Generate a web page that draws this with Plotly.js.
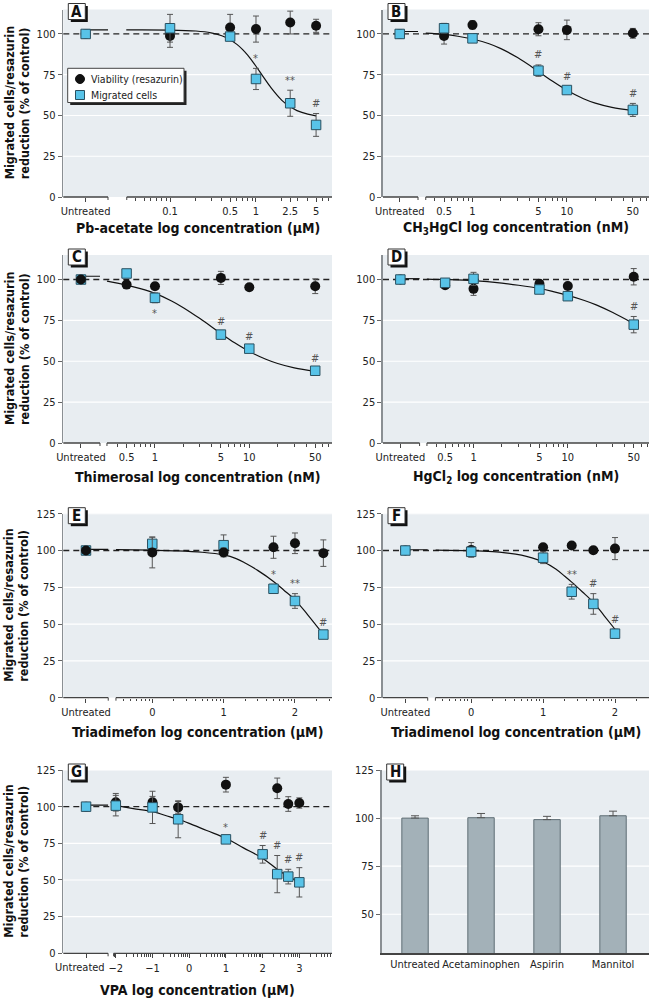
<!DOCTYPE html>
<html><head><meta charset="utf-8">
<script src="https://cdn.plot.ly/plotly-3.0.1.min.js"></script>
<style>body{margin:0;background:#fff}#chart{width:649px;height:999px}</style>
</head><body><div id="chart"></div>
<script>
// ---------------- DATA ----------------
// A: Pb-acetate (µM)
const A_conc = ['Untreated', 0.1, 0.5, 1, 2.5, 5];
const A_viability = [100, 98.8, 104, 103, 107, 105];
const A_viabilityErr = [0, 7, 8, 8, 7, 4];
const A_migrated = [100, 103.5, 98.4, 72.4, 57.5, 44.2];
const A_migratedErr = [0, 8.5, 2, 6.5, 8, 7];
const A_signif = ['', '', '', '*', '**', '#'];
const A_fitStub = 102.5;
const A_fitConc = [0.031, 0.1, 0.2, 0.3, 0.4, 0.5, 0.6, 0.7, 0.8, 0.9, 1, 1.2, 1.5, 2, 2.5, 3, 4, 5];
const A_fit = [102.5, 102.4, 101.8, 100.7, 98.9, 96.5, 93.6, 90.4, 87, 83.5, 80.2, 74.1, 66.9, 59.3, 55.3, 53, 50.8, 49.8];
const A_tickConc = ['Untreated', 0.1, 0.5, 1, 2.5, 5];
const A_tickText = ['Untreated', '0.1', '0.5', '1', '2.5', '5'];

// B: CH3HgCl (nM)
const B_conc = ['Untreated', 0.5, 1, 5, 10, 50];
const B_viability = [100, 98.8, 105.5, 102.9, 102.5, 100.4];
const B_viabilityErr = [0, 5, 2.5, 4, 6, 3];
const B_migrated = [100, 103.5, 97.3, 77.5, 65.6, 53.4];
const B_migratedErr = [0, 3, 2.5, 3.5, 2, 4];
const B_signif = ['', '', '', '#', '#', '#'];
const B_fitStub = 101.5;
const B_fitConc = [0.32, 0.5, 0.7, 1, 1.5, 2, 3, 5, 7, 10, 15, 20, 30, 50];
const B_fit = [100.5, 99.7, 98.6, 96.9, 94, 91, 85.5, 77, 71.1, 65.5, 60.3, 57.6, 55, 53];
const B_tickConc = ['Untreated', 0.5, 1, 5, 10, 50];
const B_tickText = ['Untreated', '0.5', '1', '5', '10', '50'];

// C: Thimerosal (nM)
const C_conc = ['Untreated', 0.5, 1, 5, 10, 50];
const C_viability = [100, 96.9, 95.9, 101, 95.3, 95.9];
const C_viabilityErr = [0, 2, 2, 4, 1.5, 4.5];
const C_migrated = [100, 103.7, 88.8, 66.3, 57.7, 44.2];
const C_migratedErr = [0, 1.5, 3, 2, 1.5, 1.5];
const C_signif = ['', '', '*', '#', '#', '#'];
const C_fitStub = 102;
const C_fitConc = [0.31, 0.5, 0.7, 1, 1.5, 2, 3, 5, 7, 10, 15, 20, 30, 50];
const C_fit = [99, 96.6, 94.4, 91.5, 86.9, 82.8, 76.1, 67, 61.3, 56, 51.2, 48.6, 45.9, 43.8];
const C_tickConc = ['Untreated', 0.5, 1, 5, 10, 50];
const C_tickText = ['Untreated', '0.5', '1', '5', '10', '50'];

// D: HgCl2 (nM)
const D_conc = ['Untreated', 0.5, 1, 5, 10, 50];
const D_viability = [100, 96.5, 94.3, 97.4, 96, 101.7];
const D_viabilityErr = [0, 2, 4, 2, 1.5, 5];
const D_migrated = [100, 98, 100.4, 93.9, 89.8, 72.4];
const D_migratedErr = [0, 1.5, 4, 1.5, 2.5, 5];
const D_signif = ['', '', '', '', '', '#'];
const D_fitStub = 100.5;
const D_fitConc = [0.32, 0.5, 1, 2, 3, 5, 7, 10, 15, 20, 30, 50];
const D_fit = [100.3, 100, 99.3, 97.8, 96.5, 94.5, 92.6, 90.3, 87.2, 84.5, 79.8, 73];
const D_tickConc = ['Untreated', 0.5, 1, 5, 10, 50];
const D_tickText = ['Untreated', '0.5', '1', '5', '10', '50'];

// E: Triadimefon (µM)
const E_conc = ['Untreated', 1, 10, 50, 100, 250];
const E_viability = [100, 98.7, 98.7, 102.2, 104.9, 98.2];
const E_viabilityErr = [0, 10.5, 3, 7.5, 7, 9];
const E_migrated = [100, 104.5, 103.6, 74, 65.7, 42.9];
const E_migratedErr = [0, 4.5, 7, 3, 5, 1.5];
const E_signif = ['', '', '', '*', '**', '#'];
const E_fitStub = 100.8;
const E_fitConc = [0.31, 1, 2, 5, 10, 15, 20, 30, 50, 70, 100, 150, 250];
const E_fit = [100.6, 100.2, 99.8, 98.8, 97, 94.5, 91.5, 86.5, 79, 73, 66.5, 56.5, 43];
const E_tickConc = ['Untreated', 1, 10, 100];
const E_tickText = ['Untreated', '0', '1', '2'];

// F: Triadimenol (µM)
const F_conc = ['Untreated', 1, 10, 25, 50, 100];
const F_viability = [100, 100.4, 102.2, 103.4, 100.2, 101.3];
const F_viabilityErr = [0, 5, 1.5, 1.5, 1, 7.5];
const F_migrated = [100, 99.1, 95.1, 72, 63.7, 43.5];
const F_migratedErr = [0, 3, 4, 5, 7, 3];
const F_signif = ['', '', '', '**', '#', '#'];
const F_fitStub = 100.5;
const F_fitConc = [0.32, 1, 2, 3, 5, 7, 10, 15, 20, 25, 35, 50, 70, 100];
const F_fit = [100.3, 99.9, 99.2, 98.4, 96.8, 95, 92.4, 87.5, 82.5, 78.5, 72, 64.8, 56, 46.5];
const F_tickConc = ['Untreated', 1, 10, 100];
const F_tickText = ['Untreated', '0', '1', '2'];

// G: VPA (µM)
const G_conc = ['Untreated', 0.01, 0.1, 0.5, 10, 100, 250, 500, 1000];
const G_viability = [100, 103, 103, 99.5, 115, null, 112.5, 101.8, 102.5];
const G_viabilityErr = [0, 6, 4, 4, 5, 0, 7, 5, 3.5];
const G_migrated = [100, 100.7, 99.5, 91.4, 77.7, 67.5, 54, 52.3, 48.4];
const G_migratedErr = [0, 7, 11, 12.6, 1.5, 6, 12.7, 5, 10];
const G_signif = ['', '', '', '', '*', '#', '#', '#', '#'];
const G_fitStub = 101;
const G_fitConc = [0.0087, 0.03, 0.1, 0.3, 0.5, 1, 3, 10, 30, 100, 250, 500, 1000];
const G_fit = [101, 98.7, 96.6, 93, 91.4, 88.6, 83.7, 78.4, 71.9, 64.8, 57.3, 52.3, 48.9];
const G_tickConc = ['Untreated', 0.01, 0.1, 1, 10, 100, 1000];
const G_tickText = ['Untreated', '\u22122', '\u22121', '0', '1', '2', '3'];

// H: controls (bar chart)
const H_categories = ['Untreated', 'Acetaminophen', 'Aspirin', 'Mannitol'];
const H_values = [100, 100.2, 99.2, 101.2];
const H_err = [1.2, 2.2, 1.7, 2.4];

const legendLabels = ['Viability (resazurin)', 'Migrated cells'];
const yTitleLines = ['Migrated cells/resazurin', 'reduction (% of control)'];

// ---------------- LAYOUT CONFIG ----------------
const W = 649, H = 999;
const FONT = '"Liberation Sans Narrow","DejaVu Sans Condensed","Arial Narrow",sans-serif';
const BG = '#e8edf1';
const SQ = '#58c3e8';
const TICKSIZE = 11;
const LEFT = [63.3, 332], RIGHT = [383, 649];
const ROW1 = [9.5, 197], ROW2 = [255, 443], ROW3 = [513.7, 697.7], ROW4 = [770, 953.3];

const panels = [
  {L:'A', conc:A_conc, v:A_viability, ve:A_viabilityErr, m:A_migrated, me:A_migratedErr, sig:A_signif, stub:A_fitStub, fx:A_fitConc, fy:A_fit, tc:A_tickConc, tt:A_tickText,
   dx:LEFT, dy:ROW1, range:[-2.241,0.884], yr:[0,115], yt:[0,25,50,75,100], un:-1.981, brk:[-1.721,-1.503], title:'Pb-acetate log concentration (µM)', ty:228, circTop:false},
  {L:'B', conc:B_conc, v:B_viability, ve:B_viabilityErr, m:B_migrated, me:B_migratedErr, sig:B_signif, stub:B_fitStub, fx:B_fitConc, fy:B_fit, tc:B_tickConc, tt:B_tickText,
   dx:RIGHT, dy:ROW1, range:[-0.948,1.870], yr:[0,115], yt:[0,25,50,75,100], un:-0.771, brk:[-0.577,-0.495], title:'CH<sub>3</sub>HgCl log concentration (nM)', ty:228, circTop:false},
  {L:'C', conc:C_conc, v:C_viability, ve:C_viabilityErr, m:C_migrated, me:C_migratedErr, sig:C_signif, stub:C_fitStub, fx:C_fitConc, fy:C_fit, tc:C_tickConc, tt:C_tickText,
   dx:LEFT, dy:ROW2, range:[-0.972,1.877], yr:[0,115], yt:[0,25,50,75,100], un:-0.785, brk:[-0.583,-0.509], title:'Thimerosal log concentration (nM)', ty:477, circTop:true, below:[2]},
  {L:'D', conc:D_conc, v:D_viability, ve:D_viabilityErr, m:D_migrated, me:D_migratedErr, sig:D_signif, stub:D_fitStub, fx:D_fitConc, fy:D_fit, tc:D_tickConc, tt:D_tickText,
   dx:RIGHT, dy:ROW2, range:[-0.960,1.861], yr:[0,115], yt:[0,25,50,75,100], un:-0.776, brk:[-0.572,-0.494], title:'HgCl<sub>2</sub> log concentration (nM)', ty:477, circTop:false},
  {L:'E', conc:E_conc, v:E_viability, ve:E_viabilityErr, m:E_migrated, me:E_migratedErr, sig:E_signif, stub:E_fitStub, fx:E_fitConc, fy:E_fit, tc:E_tickConc, tt:E_tickText,
   dx:LEFT, dy:ROW3, range:[-1.247,2.519], yr:[0,125], yt:[0,25,50,75,100,125], un:-0.929, brk:[-0.617,-0.509], title:'Triadimefon log concentration (µM)', ty:732, circTop:true},
  {L:'F', conc:F_conc, v:F_viability, ve:F_viabilityErr, m:F_migrated, me:F_migratedErr, sig:F_signif, stub:F_fitStub, fx:F_fitConc, fy:F_fit, tc:F_tickConc, tt:F_tickText,
   dx:RIGHT, dy:ROW3, range:[-1.227,2.473], yr:[0,125], yt:[0,25,50,75,100,125], un:-0.916, brk:[-0.605,-0.498], title:'Triadimenol log concentration (µM)', ty:732, circTop:false},
  {L:'G', conc:G_conc, v:G_viability, ve:G_viabilityErr, m:G_migrated, me:G_migratedErr, sig:G_signif, stub:G_fitStub, fx:G_fitConc, fy:G_fit, tc:G_tickConc, tt:G_tickText,
   dx:LEFT, dy:ROW4, range:[-3.43,3.89], yr:[0,125], yt:[0,25,50,75,100,125], un:-2.81, brk:[-2.21,-2.06], title:'VPA log concentration (µM)', ty:990, circTop:false, untreatedLabelPx:79.5}
];

const traces = [], shapes = [], annotations = [];
const layout = {
  width: W, height: H, margin: {l:0, r:0, t:0, b:0},
  paper_bgcolor: '#fff', plot_bgcolor: BG, showlegend: false,
  font: {family: FONT, size: 12, color: '#222'}
};
const px2x = p => p / W, px2y = p => 1 - p / H;

// y axes: own grid disabled; white grid lines drawn as shapes below the dashed 100% line
function yAxisCfg(dy, yr, yt, anchor) {
  return {domain:[px2y(dy[1]), px2y(dy[0])], range:yr, tickvals:yt, anchor:anchor,
    showline:true, linecolor:'#8a8f93', linewidth:1.6, ticks:'outside', ticklen:4, tickcolor:'#666', tickwidth:1,
    showgrid:false, zeroline:false, fixedrange:true,
    tickfont:{family:FONT, size:TICKSIZE, color:'#222'}};
}
function gridShapes(xa, ya, yt, skip) {
  yt.forEach(v => { if (!skip.includes(v)) shapes.push({type:'line', xref:xa + ' domain', yref:ya, x0:0, x1:1, y0:v, y1:v, line:{color:'#ffffff', width:1.2}, layer:'below'}); });
}

function panelBox(L, dx, dy) {
  const x0 = dx[0] + 5, x1 = dx[0] + 22, y0 = dy[0] - 6, y1 = dy[0] + 10;
  shapes.push({type:'rect', xref:'paper', yref:'paper', x0:px2x(x0+2.5), x1:px2x(x1+2.5), y0:px2y(y1+2.5), y1:px2y(y0+2.5), fillcolor:'#111', line:{width:0}, layer:'above'});
  shapes.push({type:'rect', xref:'paper', yref:'paper', x0:px2x(x0), x1:px2x(x1), y0:px2y(y1), y1:px2y(y0), fillcolor:'#fff', line:{color:'#333', width:1}, layer:'above'});
  annotations.push({xref:'paper', yref:'paper', x:px2x((x0+x1)/2), y:px2y((y0+y1)/2), text:'<b>'+L+'</b>', showarrow:false, xanchor:'center', yanchor:'middle', font:{family:FONT, size:15, color:'#111'}});
}

function yTitle(dy) {
  const cy = (dy[0] + dy[1]) / 2;
  [9, 24].forEach((xp, k) => annotations.push({xref:'paper', yref:'paper', x:px2x(xp), y:px2y(cy), text:'<b>'+yTitleLines[k]+'</b>', textangle:-90, showarrow:false, xanchor:'center', yanchor:'middle', font:{family:FONT, size:12.5, color:'#111'}}));
}

panels.forEach((p, i) => {
  const n = i + 1, s = n === 1 ? '' : String(n);
  const xa = 'x' + s, ya = 'y' + s;
  const pos = c => c === 'Untreated' ? Math.pow(10, p.un) : c;
  const toPx = lv => p.dx[0] + (lv - p.range[0]) / (p.range[1] - p.range[0]) * (p.dx[1] - p.dx[0]);

  // minor ticks (axis decoration)
  const majors = p.tc.filter(c => c !== 'Untreated');
  const minors = [];
  for (let k = Math.floor(p.brk[1]); k <= Math.ceil(p.range[1]); k++) {
    for (let mm = 1; mm <= 9; mm++) {
      const v = mm * Math.pow(10, k), lv = Math.log10(v);
      if (lv > p.brk[1] + 0.01 && lv < p.range[1] - 0.005 && !majors.some(t => Math.abs(Math.log10(t) - lv) < 1e-6)) minors.push(v);
    }
  }

  // G: "Untreated" label sits left of its tick in the reference -> drawn as annotation
  const ticktext = p.tt.map((t, k) => (p.untreatedLabelPx && p.tc[k] === 'Untreated') ? ' ' : t);
  if (p.untreatedLabelPx) {
    annotations.push({xref:'paper', yref:'paper', x:px2x(p.untreatedLabelPx), y:px2y(p.dy[1] + 14), text:'Untreated', showarrow:false, xanchor:'center', yanchor:'middle', font:{family:FONT, size:TICKSIZE, color:'#222'}});
  }

  layout['xaxis' + s] = {domain:[px2x(p.dx[0]), px2x(p.dx[1])], type:'log', range:p.range, anchor:ya,
    tickmode:'array', tickvals:p.tc.map(pos), ticktext:ticktext, tickangle:0, ticks:'outside', ticklen:4, tickcolor:'#444', tickwidth:1,
    showline:false, showgrid:false, zeroline:false, fixedrange:true,
    tickfont:{family:FONT, size:TICKSIZE, color:'#222'},
    minor:{tickmode:'array', tickvals:minors, ticks:'outside', ticklen:2.5, tickcolor:'#444', tickwidth:1, showgrid:false}};
  layout['yaxis' + s] = yAxisCfg(p.dy, p.yr, p.yt, xa);
  gridShapes(xa, ya, p.yt, [0, 100]);

  // fitted curve
  traces.push({type:'scatter', mode:'lines', xaxis:xa, yaxis:ya, x:[pos('Untreated'), Math.pow(10, p.brk[0])], y:[p.stub, p.stub], line:{color:'#111', width:1.2}, hoverinfo:'skip'});
  traces.push({type:'scatter', mode:'lines', xaxis:xa, yaxis:ya, x:p.fx, y:p.fy, line:{color:'#111', width:1.2, shape:'spline'}, hoverinfo:'skip'});

  const circ = {type:'scatter', mode:'markers', name:legendLabels[0], xaxis:xa, yaxis:ya, x:p.conc.map(pos), y:p.v,
    error_y:{type:'data', array:p.ve, color:'#555', thickness:1, width:3},
    marker:{symbol:'circle', size:10, color:'#111'}};
  const sq = {type:'scatter', mode:'markers', name:legendLabels[1], xaxis:xa, yaxis:ya, x:p.conc.map(pos), y:p.m,
    error_y:{type:'data', array:p.me, color:'#555', thickness:1, width:3},
    marker:{symbol:'square', size:9.5, color:SQ, line:{color:'#2a5060', width:1}}};
  if (p.circTop) { traces.push(sq, circ); } else { traces.push(circ, sq); }

  // dashed reference line at 100%
  shapes.push({type:'line', xref:xa + ' domain', yref:ya, x0:0, x1:1, y0:100, y1:100, line:{color:'#222', width:1.3, dash:'6px,4px'}, layer:'below'});

  // broken x axis line
  const by = px2y(p.dy[1]);
  const segs = [[p.dx[0], toPx(p.brk[0])], [toPx(p.brk[1]), p.dx[1]]];
  segs.forEach(sg => shapes.push({type:'line', xref:'paper', yref:'paper', x0:px2x(sg[0]), x1:px2x(sg[1]), y0:by, y1:by, line:{color:'#444', width:1.3}}));
  [toPx(p.brk[0]), toPx(p.brk[1])].forEach(xp => shapes.push({type:'line', xref:'paper', yref:'paper', x0:px2x(xp), x1:px2x(xp), y0:by, y1:px2y(p.dy[1] + 3), line:{color:'#444', width:1}}));

  // significance marks
  p.sig.forEach((t, k) => {
    if (!t) return;
    const below = p.below && p.below.includes(k);
    const y = below ? p.m[k] - p.me[k] - 1.5 : p.m[k] + p.me[k] + 1;
    annotations.push({xref:'paper', yref:ya, x:px2x(toPx(Math.log10(pos(p.conc[k])))), y:y, text:t, showarrow:false,
      xanchor:'center', yanchor: below ? 'top' : 'bottom', font:{family:FONT, size:11, color:'#555'}});
  });

  // x title
  annotations.push({xref:'paper', yref:'paper', x:px2x((p.dx[0] + p.dx[1]) / 2), y:px2y(p.ty), text:'<b>' + p.title + '</b>', showarrow:false, xanchor:'center', yanchor:'middle', font:{family:FONT, size:14, color:'#111'}});

  if (p.dx === LEFT) yTitle(p.dy);
  panelBox(p.L, p.dx, p.dy);
});

// Panel H (bars)
const HX = [381.7, 649];
layout.xaxis8 = {domain:[px2x(HX[0]), px2x(HX[1])], type:'category', range:[-0.505, 3.545], anchor:'y8', tickangle:0,
  showline:true, linecolor:'#444', linewidth:1.3, ticks:'', showgrid:false, zeroline:false, fixedrange:true,
  tickfont:{family:FONT, size:TICKSIZE, color:'#222'}};
layout.yaxis8 = yAxisCfg(ROW4, [29.7, 125], [50, 75, 100, 125], 'x8');
gridShapes('x8', 'y8', [50, 75, 100, 125], []);
traces.push({type:'bar', xaxis:'x8', yaxis:'y8', x:H_categories, y:H_values, width:0.4,
  marker:{color:'#a3b1b8', line:{color:'#5f6e75', width:1}},
  error_y:{type:'data', array:H_err, arrayminus:H_err.map(() => 0), symmetric:false, color:'#555', thickness:1, width:4}});
panelBox('H', HX, ROW4);

// Legend (panel A)
const LG = {x0:67.7, x1:184, y0:68.3, y1:102.5};
shapes.push({type:'rect', xref:'paper', yref:'paper', x0:px2x(LG.x0+2.5), x1:px2x(LG.x1+2.5), y0:px2y(LG.y1+2.5), y1:px2y(LG.y0+2.5), fillcolor:'#222', line:{width:0}, layer:'above'});
shapes.push({type:'rect', xref:'paper', yref:'paper', x0:px2x(LG.x0), x1:px2x(LG.x1), y0:px2y(LG.y1), y1:px2y(LG.y0), fillcolor:'#fff', line:{color:'#444', width:1}, layer:'above'});
shapes.push({type:'circle', xref:'paper', yref:'paper', x0:px2x(75.5), x1:px2x(84.5), y0:px2y(83.5), y1:px2y(74.5), fillcolor:'#111', line:{color:'#111', width:1}, layer:'above'});
shapes.push({type:'rect', xref:'paper', yref:'paper', x0:px2x(75.5), x1:px2x(84.5), y0:px2y(99.5), y1:px2y(90.5), fillcolor:SQ, line:{color:'#2a5060', width:1}, layer:'above'});
[79, 95].forEach((yp, k) => annotations.push({xref:'paper', yref:'paper', x:px2x(89), y:px2y(yp), text:legendLabels[k], showarrow:false, xanchor:'left', yanchor:'middle', font:{family:FONT, size:10.5, color:'#222'}}));

layout.shapes = shapes;
layout.annotations = annotations;
Plotly.newPlot('chart', traces, layout, {staticPlot:true, displayModeBar:false});
</script>
</body></html>
